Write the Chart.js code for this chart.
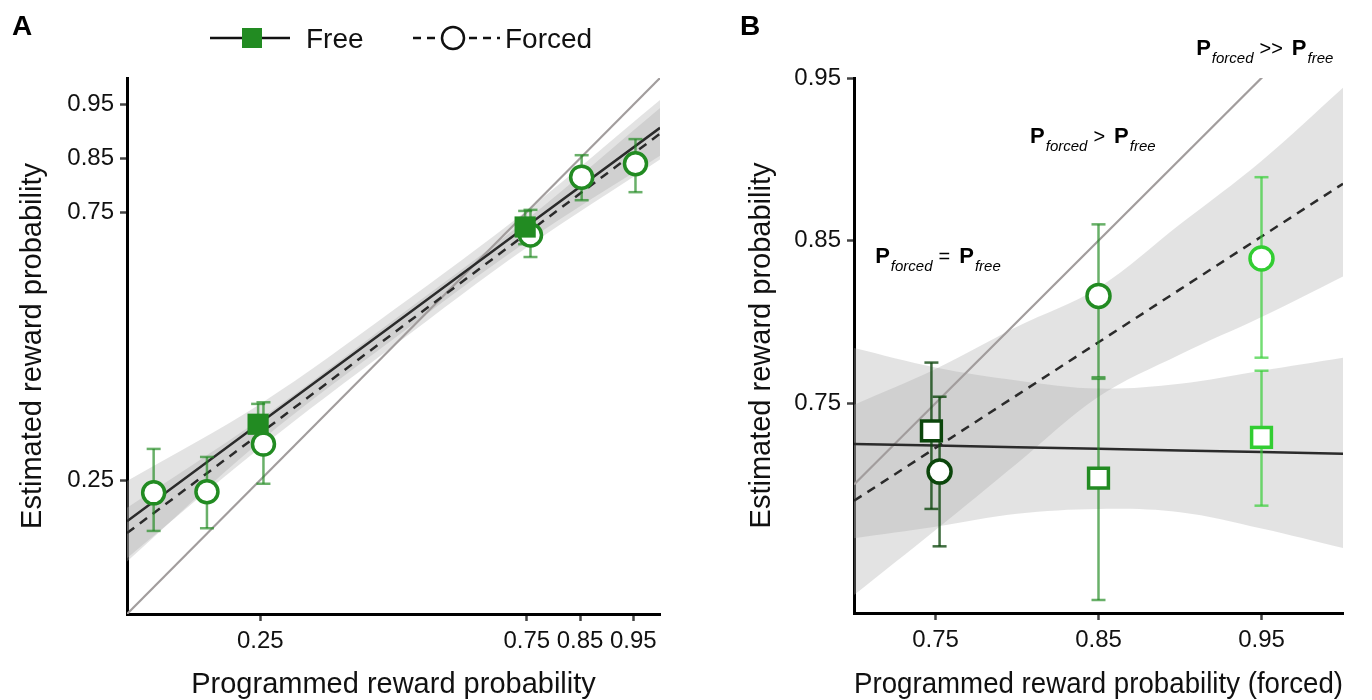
<!DOCTYPE html>
<html><head><meta charset="utf-8">
<script src="https://cdn.jsdelivr.net/npm/chart.js@4.4.0/dist/chart.umd.min.js"></script>
<style>
html,body{margin:0;padding:0;background:#fff;}
#wrap{position:relative;width:1372px;height:700px;overflow:hidden;}
.c{position:absolute;top:0;height:700px;width:686px;}
#ca{left:0;} #cb{left:686px;}
</style></head><body>
<div id="wrap">
<div class="c" id="ca"><canvas id="chartA"></canvas></div>
<div class="c" id="cb"><canvas id="chartB"></canvas></div>
</div>
<script>
// ================= Panel A data =================
const tickValsA = [0.25, 0.75, 0.85, 0.95];
const tickLabelsA = ['0.25', '0.75', '0.85', '0.95'];
const identityA = [0, 1];
const freeXA = [0.246, 0.747];
const freeYA = [0.354, 0.722];
const freeLoA = [0.319, 0.690];
const freeHiA = [0.392, 0.752];
const forcedXA = [0.05, 0.15, 0.256, 0.757, 0.853, 0.954];
const forcedYA = [0.226, 0.228, 0.317, 0.707, 0.815, 0.840];
const forcedLoA = [0.155, 0.160, 0.243, 0.666, 0.772, 0.787];
const forcedHiA = [0.308, 0.293, 0.395, 0.754, 0.856, 0.886];
const fitXA = [0, 0.25, 0.5, 0.75, 1];
const freeFitA = [0.173, 0.357, 0.540, 0.724, 0.907];
const freeBandHiA = [0.248, 0.392, 0.567, 0.753, 0.959];
const freeBandLoA = [0.098, 0.322, 0.513, 0.695, 0.855];
const forcedFitA = [0.151, 0.337, 0.524, 0.710, 0.896];
const forcedBandHiA = [0.198, 0.364, 0.548, 0.736, 0.944];
const forcedBandLoA = [0.104, 0.310, 0.500, 0.684, 0.848];

// ================= Panel B data =================
const tickValsB = [0.75, 0.85, 0.95];
const tickLabelsB = ['0.75', '0.85', '0.95'];
const identityB = [0.70, 1.0];
const freeXB = [0.7475, 0.85, 0.95];
const freeYB = [0.733, 0.704, 0.729];
const freeLoB = [0.685, 0.629, 0.687];
const freeHiB = [0.775, 0.765, 0.770];
const forcedXB = [0.7525, 0.85, 0.95];
const forcedYB = [0.708, 0.816, 0.839];
const forcedLoB = [0.662, 0.766, 0.778];
const forcedHiB = [0.754, 0.860, 0.889];
const fitXB = [0.70, 0.75, 0.80, 0.85, 0.90, 0.95, 1.00];
const freeFitB = [0.725, 0.724, 0.723, 0.722, 0.721, 0.720, 0.719];
const freeBandHiB = [0.784, 0.772, 0.764, 0.759, 0.762, 0.770, 0.778];
const freeBandLoB = [0.667, 0.674, 0.682, 0.685, 0.683, 0.673, 0.661];
const forcedFitB = [0.690, 0.7225, 0.755, 0.7875, 0.820, 0.8525, 0.885];
const forcedBandHiB = [0.749, 0.771, 0.797, 0.821, 0.860, 0.899, 0.944];
const forcedBandLoB = [0.632, 0.672, 0.713, 0.754, 0.780, 0.803, 0.828];
const annotationsB = [
  {x: 0.7130, y: 0.8362, op: '='},
  {x: 0.8080, y: 0.9100, op: '>'},
  {x: 0.9099, y: 0.9642, op: '>>'}
];

// ================= styles =================
const FONT = "'Liberation Sans', Arial, Helvetica, sans-serif";
const GREEN = '#228b22';
const GREEN_ERR = 'rgba(34,139,34,0.68)';
const catColorsB = ['#0b450b', '#228b22', '#32cd32'];
const catErrColorsB = ['rgba(11,69,11,0.78)', 'rgba(34,139,34,0.68)', 'rgba(50,205,50,0.68)'];
const BAND = 'rgba(170,170,170,0.33)';
const IDENT = '#a29d9d';
const FITC = '#2b2b2b';

function pts(xs, ys) { return xs.map((x, i) => ({x: x, y: ys[i]})); }
function errSets(xs, lo, hi, colors, order) {
  return xs.map((x, i) => ({
    type: 'line', data: [{x: x, y: lo[i]}, {x: x, y: hi[i]}],
    borderColor: colors[i], borderWidth: 2.5, pointStyle: 'line', pointRadius: 7,
    pointBorderWidth: 2.5, pointBorderColor: colors[i], pointBackgroundColor: colors[i],
    fill: false, order: order
  }));
}
function band(xs, hi, lo, order) {
  return [
    {type: 'line', data: pts(xs, hi), borderWidth: 0, pointRadius: 0, fill: '+1', backgroundColor: BAND, borderColor: 'rgba(0,0,0,0)', tension: 0.35, order: order},
    {type: 'line', data: pts(xs, lo), borderWidth: 0, pointRadius: 0, fill: false, borderColor: 'rgba(0,0,0,0)', tension: 0.35, order: order}
  ];
}
function axis(min, max, vals, labels, title, isX, size, titlePad) {
  return {
    type: 'linear', min: min, max: max,
    afterBuildTicks: s => { s.ticks = vals.map(v => ({value: v})); },
    afterFit: s => { if (isX) s.height = size; else s.width = size; },
    ticks: {callback: (v, i) => labels[i], font: {family: FONT, size: 24}, color: '#111', padding: 6, autoSkip: false, maxRotation: 0},
    grid: {display: true, drawOnChartArea: false, drawTicks: true, tickLength: 7, tickWidth: 2.5, tickColor: '#444'},
    border: {display: true, color: '#000', width: 3},
    title: {display: true, text: title, color: '#111', font: {family: FONT, size: 29, lineHeight: 1}, padding: titlePad}
  };
}

// ================= Panel A =================
const legendPlugin = {
  id: 'legendA',
  afterDraw(chart) {
    const ctx = chart.ctx;
    ctx.save();
    ctx.fillStyle = '#000';
    ctx.font = 'bold 28px ' + FONT;
    ctx.textBaseline = 'alphabetic';
    ctx.fillText('A', 12, 35);
    // Free
    ctx.strokeStyle = '#111'; ctx.lineWidth = 2.5;
    ctx.beginPath(); ctx.moveTo(210, 38); ctx.lineTo(290, 38); ctx.stroke();
    ctx.fillStyle = GREEN; ctx.fillRect(242, 28, 20, 20);
    ctx.fillStyle = '#111'; ctx.font = '28px ' + FONT;
    ctx.fillText('Free', 306, 48);
    // Forced
    ctx.setLineDash([8, 6]);
    ctx.beginPath(); ctx.moveTo(413, 38); ctx.lineTo(500, 38); ctx.stroke();
    ctx.setLineDash([]);
    ctx.beginPath(); ctx.arc(453, 38, 11, 0, Math.PI * 2);
    ctx.fillStyle = '#fff'; ctx.fill(); ctx.lineWidth = 2.5; ctx.strokeStyle = '#111'; ctx.stroke();
    ctx.fillStyle = '#111';
    ctx.fillText('Forced', 505, 48);
    ctx.restore();
  }
};

new Chart(document.getElementById('chartA'), {
  type: 'line',
  data: {
    datasets: [
      {type: 'scatter', data: pts(freeXA, freeYA), pointStyle: 'rect', pointRadius: 15, backgroundColor: GREEN, borderWidth: 0, order: 0},
      {type: 'scatter', data: pts(forcedXA, forcedYA), pointStyle: 'circle', pointRadius: 11, backgroundColor: '#fff', borderColor: GREEN, borderWidth: 3.5, order: 0},
      ...errSets(freeXA, freeLoA, freeHiA, freeXA.map(() => GREEN_ERR), 1),
      ...errSets(forcedXA, forcedLoA, forcedHiA, forcedXA.map(() => GREEN_ERR), 1),
      {type: 'line', data: pts(fitXA, freeFitA), borderColor: FITC, borderWidth: 2.5, pointRadius: 0, fill: false, order: 2},
      {type: 'line', data: pts(fitXA, forcedFitA), borderColor: FITC, borderWidth: 2.5, borderDash: [9, 7], pointRadius: 0, fill: false, order: 2},
      {type: 'line', data: pts(identityA, identityA), borderColor: IDENT, borderWidth: 2.2, pointRadius: 0, fill: false, order: 3},
      ...band(fitXA, freeBandHiA, freeBandLoA, 4),
      ...band(fitXA, forcedBandHiA, forcedBandLoA, 4)
    ]
  },
  options: {
    responsive: true, maintainAspectRatio: false, animation: false, events: [],
    layout: {padding: {left: 0, right: 26, top: 78, bottom: 0}},
    plugins: {legend: {display: false}, tooltip: {enabled: false}},
    scales: {
      x: axis(0, 1, tickValsA, tickLabelsA, 'Programmed reward probability', true, 86, {top: 0, bottom: 1}),
      y: axis(0, 1, tickValsA, tickLabelsA, 'Estimated reward probability', false, 127, {top: 18, bottom: 0})
    }
  },
  plugins: [legendPlugin]
});

// ================= Panel B =================
const annotPlugin = {
  id: 'annotB',
  afterDraw(chart) {
    const ctx = chart.ctx, xs = chart.scales.x, ys = chart.scales.y;
    ctx.save();
    ctx.fillStyle = '#000';
    ctx.textBaseline = 'alphabetic';
    ctx.font = 'bold 28px ' + FONT;
    ctx.fillText('B', 54, 35);
    annotationsB.forEach(a => {
      let px = xs.getPixelForValue(a.x), py = ys.getPixelForValue(a.y);
      const parts = [
        ['bold 22px ' + FONT, 'P', 0, 1],
        ['italic 15px ' + FONT, 'forced', 8, 6],
        ['20px ' + FONT, a.op, 0, 9],
        ['bold 22px ' + FONT, 'P', 0, 1],
        ['italic 15px ' + FONT, 'free', 8, 0]
      ];
      parts.forEach(p => {
        ctx.font = p[0];
        ctx.fillText(p[1], px, py + p[2]);
        px += ctx.measureText(p[1]).width + p[3];
      });
    });
    ctx.restore();
  }
};

new Chart(document.getElementById('chartB'), {
  type: 'line',
  data: {
    datasets: [
      {type: 'scatter', data: pts(freeXB, freeYB), pointStyle: 'rect', pointRadius: 14, backgroundColor: '#fff', borderColor: catColorsB, borderWidth: 3.5, order: 0},
      {type: 'scatter', data: pts(forcedXB, forcedYB), pointStyle: 'circle', pointRadius: 11.5, backgroundColor: '#fff', borderColor: catColorsB, borderWidth: 3.5, order: 0},
      ...errSets(freeXB, freeLoB, freeHiB, catErrColorsB, 1),
      ...errSets(forcedXB, forcedLoB, forcedHiB, catErrColorsB, 1),
      {type: 'line', data: pts(fitXB, freeFitB), borderColor: FITC, borderWidth: 2.5, pointRadius: 0, fill: false, order: 2},
      {type: 'line', data: pts(fitXB, forcedFitB), borderColor: FITC, borderWidth: 2.5, borderDash: [9, 7], pointRadius: 0, fill: false, order: 2},
      {type: 'line', data: pts(identityB, identityB), borderColor: IDENT, borderWidth: 2.2, pointRadius: 0, fill: false, order: 3},
      ...band(fitXB, freeBandHiB, freeBandLoB, 4),
      ...band(fitXB, forcedBandHiB, forcedBandLoB, 4)
    ]
  },
  options: {
    responsive: true, maintainAspectRatio: false, animation: false, events: [],
    layout: {padding: {left: 0, right: 29, top: 78, bottom: 0}},
    plugins: {legend: {display: false}, tooltip: {enabled: false}},
    scales: {
      x: axis(0.70, 1.0, tickValsB, tickLabelsB, 'Programmed reward probability (forced)', true, 87, {top: 0, bottom: 1}),
      y: axis(0.621, 0.95, tickValsB, tickLabelsB, 'Estimated reward probability', false, 168, {top: 61, bottom: 0})
    }
  },
  plugins: [annotPlugin]
});
</script>
</body></html>
